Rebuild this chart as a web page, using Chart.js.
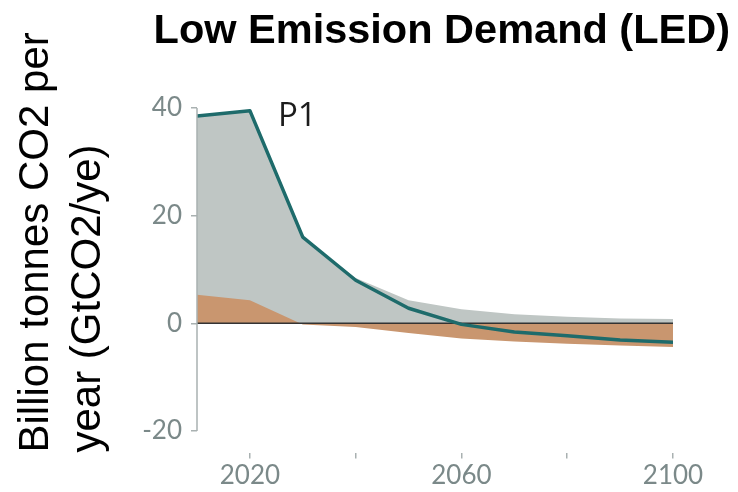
<!DOCTYPE html>
<html>
<head>
<meta charset="utf-8">
<script src="https://cdn.jsdelivr.net/npm/chart.js@4/dist/chart.umd.min.js"></script>
<style>
  html, body { margin: 0; padding: 0; background: #ffffff; }
  #wrap { width: 738px; height: 492px; }
</style>
</head>
<body>
<div id="wrap"><canvas id="c" width="738" height="492"></canvas></div>
<script>
// ---- data ----
const years = [2010, 2020, 2030, 2040, 2050, 2060, 2070, 2080, 2090, 2100];
const netCO2 = [38.5, 39.5, 16.0, 8.0, 2.8, -0.2, -1.6, -2.3, -3.1, -3.5];        // P1 line
const fossilIndustry = [38.5, 39.5, 16.0, 8.4, 4.3, 2.6, 1.7, 1.2, 0.9, 0.8];     // grey area
const afolu = [5.3, 4.3, -0.2, -0.7, -1.8, -2.8, -3.4, -3.8, -4.1, -4.4];          // orange area
const zeroLine = [0, 0, 0, 0, 0, 0, 0, 0, 0, 0];
const xTickValues = [2020, 2040, 2060, 2080, 2100];
const xTickLabels = [2020, 2060, 2100];
const yTickValues = [-20, 0, 20, 40];
const chartTitle = 'Low Emission Demand (LED)';
const yTitle = ['Billion tonnes CO2 per', 'year (GtCO2/ye)'];
const seriesLabel = 'P1';

const pts = arr => arr.map((v, i) => ({ x: years[i], y: v }));

const extras = {
  id: 'extras',
  afterDatasetsDraw(chart) {
    const { ctx, scales: { x, y } } = chart;
    // y axis line from 40 to -20
    ctx.save();
    ctx.strokeStyle = '#a9b1b1';
    ctx.lineWidth = 1.5;
    ctx.beginPath();
    const ax = chart.chartArea.left;
    ctx.moveTo(ax, y.getPixelForValue(yTickValues[yTickValues.length - 1]));
    ctx.lineTo(ax, y.getPixelForValue(yTickValues[0]));
    ctx.stroke();
    // P1 label
    ctx.fillStyle = '#1c1c1c';
    ctx.font = '33px "Open Sans"';
    ctx.textAlign = 'left';
    ctx.textBaseline = 'alphabetic';
    ctx.fillText(seriesLabel, x.getPixelForValue(2025.3), y.getPixelForValue(36.7));
    ctx.restore();
  }
};

new Chart(document.getElementById('c'), {
  type: 'line',
  data: {
    datasets: [
      { label: seriesLabel, data: pts(netCO2), borderColor: '#1e6b6b', borderWidth: 3.5,
        pointRadius: 0, fill: false, tension: 0, order: 0, borderJoinStyle: 'round' },
      { label: 'zero', data: pts(zeroLine), borderColor: '#333333', borderWidth: 1.5,
        pointRadius: 0, fill: false, order: 1 },
      { label: 'AFOLU', data: pts(afolu), borderColor: 'rgba(0,0,0,0)', borderWidth: 0,
        backgroundColor: '#c9966f', pointRadius: 0, fill: 'origin', order: 2 },
      { label: 'Fossil', data: pts(fossilIndustry), borderColor: 'rgba(0,0,0,0)', borderWidth: 0,
        backgroundColor: '#bfc6c4', pointRadius: 0, fill: 'origin', order: 3 }
    ]
  },
  options: {
    responsive: false,
    animation: false,
    devicePixelRatio: 1,
    layout: { padding: { left: 10, right: 8, top: 0, bottom: 0 } },
    plugins: {
      legend: { display: false },
      tooltip: { enabled: false },
      title: {
        display: true, text: chartTitle, align: 'end', color: '#000000',
        font: { family: '"Liberation Sans", Arial, sans-serif', size: 41.5, weight: 'bold' },
        padding: { top: 7, bottom: 51.2 }
      }
    },
    scales: {
      x: {
        type: 'linear', min: years[0], max: years[years.length - 1],
        afterBuildTicks(s) { s.ticks = xTickValues.map(v => ({ value: v })); },
        afterFit(s) { s.height = 39.5; },
        border: { display: false },
        grid: { drawOnChartArea: false, drawTicks: true, tickLength: 6, color: '#a9b1b1', lineWidth: 1.5 },
        ticks: {
          color: '#7b8989', padding: 2, maxRotation: 0, autoSkip: false,
          font: { family: 'Lato, sans-serif', size: 26 },
          callback: v => xTickLabels.includes(v) ? String(v) : ''
        }
      },
      y: {
        type: 'linear', min: -24, max: 40,
        afterBuildTicks(s) { s.ticks = yTickValues.map(v => ({ value: v })); },
        afterFit(s) { s.width = 187; },
        border: { display: false },
        grid: { drawOnChartArea: false, drawTicks: true, tickLength: 6, color: '#a9b1b1', lineWidth: 1.5 },
        ticks: { color: '#7b8989', padding: 9, font: { family: 'Lato, sans-serif', size: 26 } },
        title: {
          display: true, text: yTitle, align: 'start', color: '#000000',
          font: { family: '"Liberation Sans", Arial, sans-serif', size: 42, lineHeight: 1.25 },
          padding: { top: 0, bottom: 0 }
        }
      },
      y2: {
        type: 'linear', position: 'right', display: true,
        grid: { display: false }, border: { display: false }, ticks: { display: false },
        afterFit(s) { s.width = 57; }
      }
    }
  },
  plugins: [extras]
});
</script>
</body>
</html>
